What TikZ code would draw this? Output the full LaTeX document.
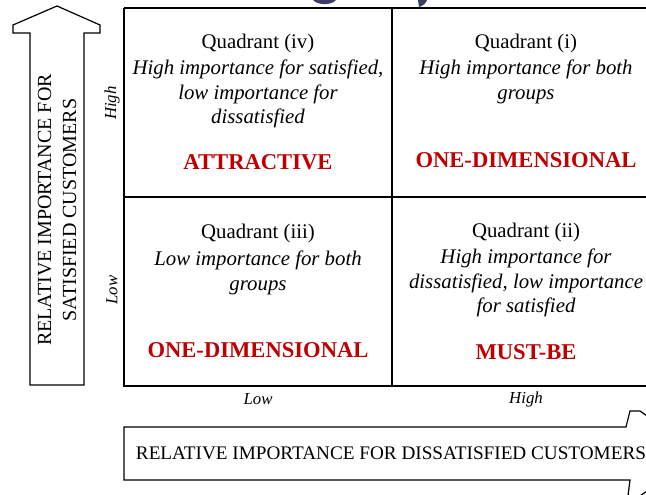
\documentclass[tikz,border=0pt]{standalone}
\usepackage{fontspec}
\setmainfont{Liberation Serif}
\definecolor{catred}{HTML}{C00000}
\definecolor{titleink}{HTML}{3C4060}
\begin{document}
\begin{tikzpicture}[x=1pt,y=-1pt,
  line width=1.3pt,
  qtext/.style={align=center,font=\fontsize{20.8}{24.8}\selectfont,inner sep=0pt},
  cat/.style={text=catred,font=\fontsize{22.6}{26}\selectfont\bfseries,inner sep=0pt},
  axlab/.style={font=\fontsize{16.8}{19}\selectfont\itshape,inner sep=0pt},
  arrtext/.style={font=\fontsize{19.2}{24.5}\selectfont,inner sep=0pt,align=center},
  bigarrow/.style={draw=black,line width=1.2pt,fill=white}]
\useasboundingbox (0,0) rectangle (646,495);
\clip (0,0) rectangle (646,495);
% cropped title fragments
\fill[titleink] (313,0) .. controls (317,5) and (331,6) .. (336,0) -- cycle;
\fill[titleink] (418,0) -- (427,0) .. controls (426,3) and (423,6) .. (419,7) -- cycle;
% grid
\draw[line width=1.4pt] (124,8) -- (700,8);
\draw (124,8) -- (124,386) -- (700,386);
\draw (392,8) -- (392,386);
\draw (124,197) -- (700,197);
% quadrant iv
\node[qtext] (q4) at (258,43) {Quadrant (iv)};
\node[qtext,anchor=north] (q4t) at (258,59) {\itshape High importance for satisfied,\\ \itshape low importance for\\ \itshape dissatisfied};
\node[cat] (c4) at (258,162) {ATTRACTIVE};
% quadrant i
\node[qtext] (q1) at (526,43) {Quadrant (i)};
\node[qtext,anchor=north] (q1t) at (526,59) {\itshape High importance for both\\ \itshape groups};
\node[cat] (c1) at (526,160) {ONE-DIMENSIONAL};
% quadrant iii
\node[qtext] (q3) at (258,233) {Quadrant (iii)};
\node[qtext,anchor=north] (q3t) at (258,250) {\itshape Low importance for both\\ \itshape groups};
\node[cat] (c3) at (258,350) {ONE-DIMENSIONAL};
% quadrant ii
\node[qtext] (q2) at (526,232) {Quadrant (ii)};
\node[qtext,anchor=north] (q2t) at (526,248) {\itshape High importance for\\ \itshape dissatisfied, low importance\\ \itshape for satisfied};
\node[cat] (c2) at (526,352) {MUST-BE};
% axis labels
\node[axlab] (xl) at (258,399) {Low};
\node[axlab] (xh) at (526,399) {High};
\node[axlab,rotate=90] (yh) at (112,103) {High};
\node[axlab,rotate=90] (yl) at (112,290) {Low};
% vertical arrow
\draw[bigarrow] (30,385) -- (30,33) -- (13,33) -- (13,25) -- (57,6) -- (100,25) -- (100,33) -- (84,33) -- (84,385) -- cycle;
\node[arrtext,rotate=90,font=\fontsize{20}{25}\selectfont] (ya) at (57,210) {RELATIVE IMPORTANCE FOR\\SATISFIED CUSTOMERS};
% horizontal arrow
\draw[bigarrow] (124,480) -- (124,427) -- (626,427) -- (630,411) -- (640,411) -- (700,453) -- (640,496) -- (628,496) -- (630,480) -- cycle;
\node[arrtext] (xa) at (391,453) {RELATIVE IMPORTANCE FOR DISSATISFIED CUSTOMERS};
\end{tikzpicture}
\end{document}
